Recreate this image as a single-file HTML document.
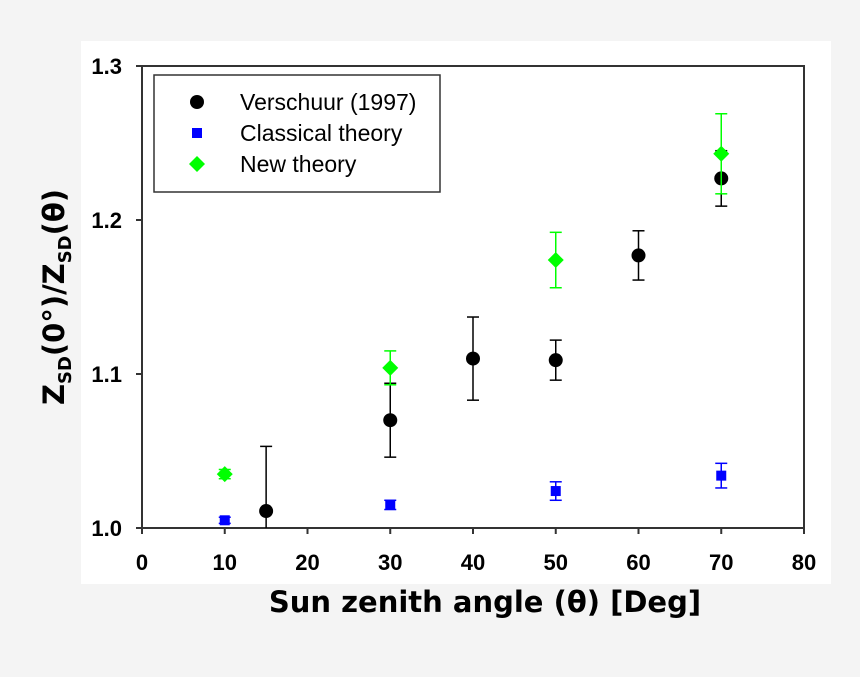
<!DOCTYPE html>
<html><head><meta charset="utf-8"><style>
body{margin:0;background:#f4f4f4;width:860px;height:672px;overflow:hidden;font-family:"Liberation Sans",sans-serif}
</style></head><body>
<svg width="860" height="672" id="svg">
<rect x="81" y="41" width="750" height="543" fill="#fff"/>
<rect x="142" y="66" width="662" height="462" fill="none" stroke="#333" stroke-width="2"/>
<g id="ticks"></g>
<g id="marks"></g>
<g>
<rect x="154" y="75" width="286" height="117" fill="#fff" stroke="#333" stroke-width="1.5"/>
<circle cx="197" cy="102" r="7" fill="#000"/>
<text x="240" y="110" font-size="23">Verschuur (1997)</text>
<rect x="192" y="128" width="10" height="10" fill="#00f"/>
<text x="240" y="141" font-size="23">Classical theory</text>
<polygon points="197,156 205,164 197,172 189,164" fill="#0f0"/>
<text x="240" y="172" font-size="23">New theory</text>
</g>
<text transform="translate(64,297) rotate(-90)" text-anchor="middle" font-family="'DejaVu Sans',sans-serif" font-weight="bold" font-size="29">Z<tspan font-size="18" dy="7">SD</tspan><tspan dy="-7">(0°)/Z</tspan><tspan font-size="18" dy="7">SD</tspan><tspan dy="-7">(θ)</tspan></text>
<text x="485" y="612" text-anchor="middle" font-family="'DejaVu Sans',sans-serif" font-weight="bold" font-size="29">Sun zenith angle (θ)  [Deg]</text>
</svg>
<script>
const xTicks=[0,10,20,30,40,50,60,70,80];
const yTicks=[1.0,1.1,1.2,1.3];
const versX=[15,30,40,50,60,70];
const versY=[1.011,1.070,1.110,1.109,1.177,1.227];
const versErr=[0.042,0.024,0.027,0.013,0.016,0.018];
const clsX=[10,30,50,70];
const clsY=[1.005,1.015,1.024,1.034];
const clsErr=[0.002,0.003,0.006,0.008];
const newX=[10,30,50,70];
const newY=[1.035,1.104,1.174,1.243];
const newErr=[0.003,0.011,0.018,0.026];
const sx=v=>142+v*662/80;
const sy=v=>528-(v-1.0)*462/0.3;
const NS='http://www.w3.org/2000/svg';
function mk(p,tag,a){const e=document.createElementNS(NS,tag);for(const k in a)e.setAttribute(k,a[k]);p.appendChild(e);return e;}
const T=document.getElementById('ticks'),M=document.getElementById('marks');
xTicks.forEach(t=>{const l=mk(T,'line',{x1:sx(t),x2:sx(t),y1:528,y2:534,stroke:'#333','stroke-width':2});


const tx=mk(T,'text',{x:sx(t),y:570,'text-anchor':'middle','font-size':22,'font-weight':'bold'});tx.textContent=t;

});
yTicks.forEach(t=>{const l=mk(T,'line',{x1:136,x2:142,y1:sy(t),y2:sy(t),stroke:'#333','stroke-width':2});


const tx=mk(T,'text',{x:122,y:sy(t)+8,'text-anchor':'end','font-size':22,'font-weight':'bold'});tx.textContent=t.toFixed(1);

});
function err(x,y,e,c){const lo=Math.max(1.0,y-e);const g=mk(M,'g',{stroke:c,'stroke-width':1.5});
mk(g,'line',{x1:sx(x),x2:sx(x),y1:sy(y+e),y2:sy(lo)});
mk(g,'line',{x1:sx(x)-6,x2:sx(x)+6,y1:sy(y+e),y2:sy(y+e)});
if(y-e>=1.0)mk(g,'line',{x1:sx(x)-6,x2:sx(x)+6,y1:sy(lo),y2:sy(lo)});

}
clsX.forEach((x,i)=>{err(x,clsY[i],clsErr[i],'#00f');const r=mk(M,'rect',{x:sx(x)-5,y:sy(clsY[i])-5,width:10,height:10,fill:'#00f'});

});
versX.forEach((x,i)=>{err(x,versY[i],versErr[i],'#000');const c=mk(M,'circle',{cx:sx(x),cy:sy(versY[i]),r:7,fill:'#000'});

});
newX.forEach((x,i)=>{err(x,newY[i],newErr[i],'#0f0');const X=sx(x),Y=sy(newY[i]);const p=mk(M,'polygon',{points:`${X},${Y-8} ${X+8},${Y} ${X},${Y+8} ${X-8},${Y}`,fill:'#0f0'});

});
</script>
</body></html>
